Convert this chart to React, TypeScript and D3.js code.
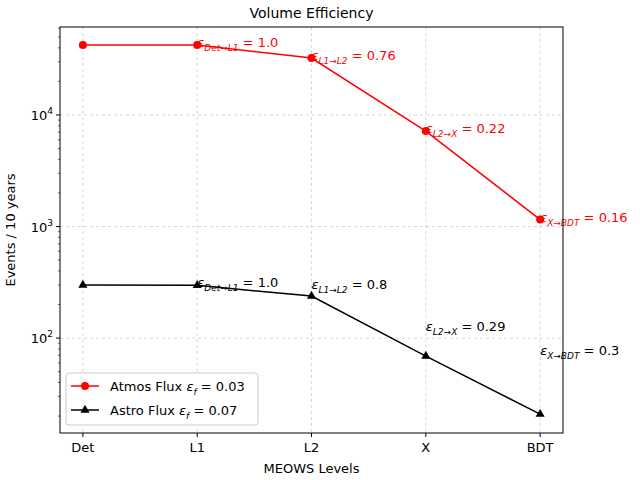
import React from "react";
import * as d3 from "d3";

const levels = ["Det", "L1", "L2", "X", "BDT"];
const atmos = [42500, 42500, 32400, 7180, 1155];
const astro = [299, 297, 238, 69, 20.8];
const atmosLabels = [
  { i: 1, sub: "Det\u2192L1", val: "1.0", v: 42500 },
  { i: 2, sub: "L1\u2192L2", val: "0.76", v: 32400 },
  { i: 3, sub: "L2\u2192X", val: "0.22", v: 7180 },
  { i: 4, sub: "X\u2192BDT", val: "0.16", v: 1155 },
];
const astroLabels = [
  { i: 1, sub: "Det\u2192L1", val: "1.0", v: 297 },
  { i: 2, sub: "L1\u2192L2", val: "0.8", v: 290 },
  { i: 3, sub: "L2\u2192X", val: "0.29", v: 120 },
  { i: 4, sub: "X\u2192BDT", val: "0.3", v: 74 },
];
const yMajor = [100, 1000, 10000];

export default function App() {
  const L = 60, R = 563, T = 27, B = 433;
  const x = d3.scaleLinear().domain([-0.2, 4.2]).range([L, R]);
  const y = d3.scaleLog().domain([14.1, 61500]).range([B, T]);
  const line = (vals: number[]) =>
    d3.line<number>().x((_, i) => x(i)).y((v) => y(v))(vals) || "";
  const minors: number[] = [];
  for (const dec of [10, 100, 1000, 10000])
    for (let k = 2; k <= 9; k++) {
      const v = dec * k;
      if (v > 14.1 && v < 61500) minors.push(v);
    }
  const font = "DejaVu Sans";
  const Eps = ({ xx, yy, sub, val, color }: any) => (
    <text x={xx} y={yy} fontSize={13} fill={color} fontFamily={font}>
      <tspan fontStyle="italic">ε</tspan>
      <tspan fontSize={9} dy={4} fontStyle="italic">{sub}</tspan>
      <tspan dy={-4}>{" = " + val}</tspan>
    </text>
  );
  return (
    <svg width={640} height={480} style={{ position: "absolute", left: 0, top: 0 }} fontFamily={font}>
      <rect width={640} height={480} fill="white" />
      <text x={(L + R) / 2} y={18} textAnchor="middle" fontSize={14}>Volume Efficiency</text>
      {levels.map((_, i) => (
        <line key={i} x1={x(i)} x2={x(i)} y1={T} y2={B} stroke="#ccc" strokeDasharray="3,3" strokeWidth={0.8} />
      ))}
      {yMajor.map((v) => (
        <line key={v} x1={L} x2={R} y1={y(v)} y2={y(v)} stroke="#ccc" strokeDasharray="3,3" strokeWidth={0.8} />
      ))}
      <path d={line(atmos)} fill="none" stroke="red" strokeWidth={1.5} />
      {atmos.map((v, i) => <circle key={i} cx={x(i)} cy={y(v)} r={4} fill="red" />)}
      <path d={line(astro)} fill="none" stroke="black" strokeWidth={1.5} />
      {astro.map((v, i) => (
        <path key={i} d={d3.symbol(d3.symbolTriangle, 36)() || ""} transform={`translate(${x(i)},${y(v)})`} fill="black" />
      ))}
      {atmosLabels.map((a) => (
        <Eps key={a.i} xx={x(a.i)} yy={y(a.v) + 2} sub={a.sub} val={a.val} color="red" />
      ))}
      {astroLabels.map((a) => (
        <Eps key={a.i} xx={x(a.i)} yy={y(a.v) + 2} sub={a.sub} val={a.val} color="black" />
      ))}
      <rect x={L} y={T} width={R - L} height={B - T} fill="none" stroke="black" strokeWidth={1} />
      {levels.map((c, i) => (
        <g key={c}>
          <line x1={x(i)} x2={x(i)} y1={B} y2={B + 4} stroke="black" />
          <text x={x(i)} y={B + 19} textAnchor="middle" fontSize={13}>{c}</text>
        </g>
      ))}
      {yMajor.map((v) => (
        <g key={v}>
          <line x1={L - 4} x2={L} y1={y(v)} y2={y(v)} stroke="black" />
          <text x={L - 7} y={y(v) + 5} textAnchor="end" fontSize={13}>
            10<tspan fontSize={9} dy={-6}>{Math.round(Math.log10(v))}</tspan>
          </text>
        </g>
      ))}
      {minors.map((v) => (
        <line key={v} x1={L - 2} x2={L} y1={y(v)} y2={y(v)} stroke="black" strokeWidth={0.6} />
      ))}
      <text x={(L + R) / 2} y={473} textAnchor="middle" fontSize={13}>MEOWS Levels</text>
      <text transform={`translate(15,${(T + B) / 2}) rotate(-90)`} textAnchor="middle" fontSize={13}>Events / 10 years</text>
      <g>
        <rect x={66} y={373} width={192} height={52} rx={3} fill="white" stroke="#ccc" />
        <line x1={71} x2={99} y1={386} y2={386} stroke="red" strokeWidth={1.5} />
        <circle cx={85} cy={386} r={4} fill="red" />
        <text x={110} y={391} fontSize={13}>Atmos Flux <tspan fontStyle="italic">ε</tspan><tspan fontSize={9} dy={4} fontStyle="italic">f</tspan><tspan dy={-4}> = 0.03</tspan></text>
        <line x1={71} x2={99} y1={410} y2={410} stroke="black" strokeWidth={1.5} />
        <path d={d3.symbol(d3.symbolTriangle, 36)() || ""} transform="translate(85,410)" fill="black" />
        <text x={110} y={415} fontSize={13}>Astro Flux <tspan fontStyle="italic">ε</tspan><tspan fontSize={9} dy={4} fontStyle="italic">f</tspan><tspan dy={-4}> = 0.07</tspan></text>
      </g>
    </svg>
  );
}
